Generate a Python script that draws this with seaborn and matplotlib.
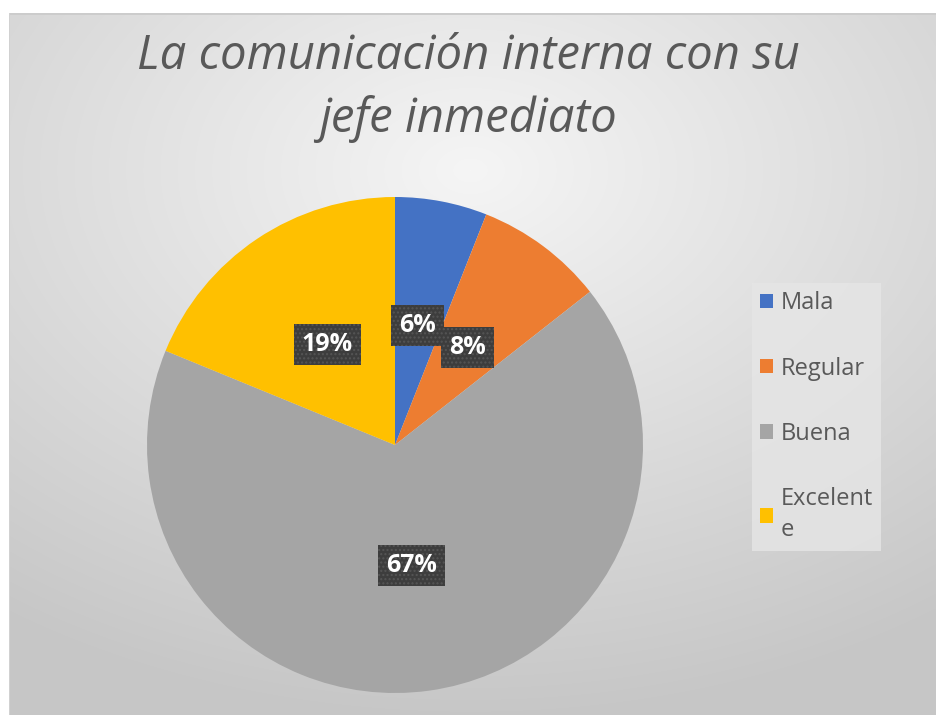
import numpy as np
import matplotlib
matplotlib.use("Agg")
import matplotlib.pyplot as plt
import seaborn as sns

# ---- data ----
categories = ["Mala", "Regular", "Buena", "Excelente"]
legend_labels = ["Mala", "Regular", "Buena", "Excelent\ne"]
values = [6.0, 8.4, 66.8, 18.8]
colors = ["#4472C4", "#ED7D31", "#A5A5A5", "#FFC000"]
title_line1 = "La comunicación interna con su"
title_line2 = "jefe inmediato"

sns.set_style("white")
plt.rcParams["font.family"] = ["Open Sans", "DejaVu Sans"]

W, H = 936, 715
fig = plt.figure(figsize=(W / 100, H / 100), dpi=100)
fig.patch.set_facecolor("white")

# ---- background gradient of chart area ----
bg = fig.add_axes([0, 0, 1, 1])
yy, xx = np.mgrid[0:H, 0:W]
dx = (xx - 470) * 0.0581
dy = (yy - 170) * 0.085
val = 245 - np.sqrt(dx ** 2 + dy ** 2)
val = np.clip(val, 198, 247) / 255.0
img = np.dstack([val, val, val])
img[:13, :, :] = 1.0
img[:, :9, :] = 1.0
img[13:15, 9:, :] = 0.80
img[13:, 9:10, :] = 0.82
bg.imshow(img, extent=[0, W, H, 0], aspect="auto", interpolation="bilinear")
bg.set_xlim(0, W)
bg.set_ylim(H, 0)
bg.axis("off")

# ---- pie ----
cx, cy, R = 395, 445, 248
ax = fig.add_axes([(cx - R) / W, (H - cy - R) / H, 2 * R / W, 2 * R / H])
ax.set_facecolor("none")
wedges, texts, autotexts = ax.pie(
    values,
    colors=colors,
    startangle=90,
    counterclock=False,
    autopct=lambda p: f"{p:.0f}%",
    pctdistance=0.49,
    wedgeprops=dict(edgecolor="none", linewidth=0),
    radius=1.0,
)
ax.set_xlim(-1, 1)
ax.set_ylim(-1, 1)
ax.set_aspect("equal")
ax.axis("off")

for t in autotexts:
    t.set_color("white")
    t.set_fontsize(18)
    t.set_fontweight("bold")
    t.set_bbox(dict(boxstyle="square,pad=0.32", facecolor="#3d3d3d",
                    edgecolor="#555555", linewidth=0, hatch="...."))

# ---- title ----
fig.text(0.5, 1 - 56 / H, title_line1, ha="center", va="center",
         fontsize=34, fontstyle="italic", fontweight="normal", color="#595959")
fig.text(0.5, 1 - 119 / H, title_line2, ha="center", va="center",
         fontsize=34, fontstyle="italic", fontweight="normal", color="#595959")

# ---- legend ----
leg = fig.legend(
    wedges, legend_labels,
    loc="upper left",
    bbox_to_anchor=(752 / W, 1 - 283 / H),
    borderaxespad=0,
    frameon=True, fancybox=False,
    fontsize=17,
    handlelength=0.55, handleheight=0.55,
    handletextpad=0.3,
    labelspacing=1.75,
    borderpad=0.35,
)
leg.get_frame().set_facecolor("#e6e6e6")
leg.get_frame().set_alpha(0.8)
leg.get_frame().set_edgecolor("none")
for t in leg.get_texts():
    t.set_color("#595959")
leg.get_texts()[3].set_linespacing(1.4)

fig.savefig("out.png", dpi=100)
